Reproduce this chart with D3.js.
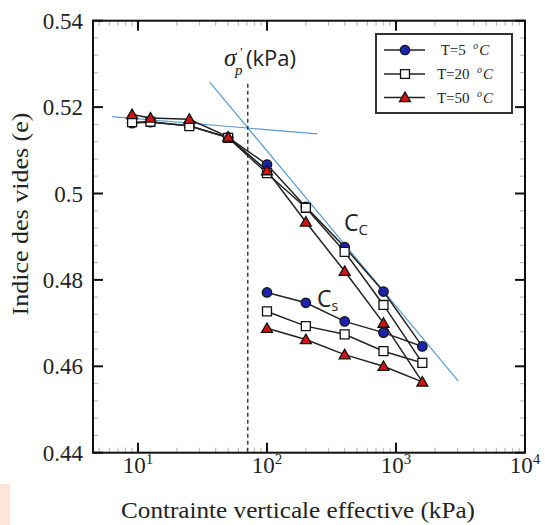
<!DOCTYPE html>
<html><head><meta charset="utf-8">
<script src="https://cdn.jsdelivr.net/npm/d3@7"></script>
<style>body{margin:0;background:#fff}svg{display:block}</style>
</head><body>
<svg id="c" width="545" height="525"></svg>
<script>
// ---- data ----
const loadP   = [9, 12.5, 25, 50, 100, 200, 400, 800, 1600];
const unloadP = [800, 400, 200, 100];
const t5Load    = [0.5163, 0.5165, 0.5157, 0.5130, 0.5067, 0.4969, 0.4876, 0.4773, 0.4646];
const t5Unload  = [0.4678, 0.4704, 0.4747, 0.4771];
const t20Load   = [0.5165, 0.5166, 0.5156, 0.5129, 0.5047, 0.4967, 0.4865, 0.4742, 0.4608];
const t20Unload = [0.4635, 0.4674, 0.4693, 0.4727];
const t50Load   = [0.5183, 0.5175, 0.5172, 0.5131, 0.5053, 0.4934, 0.4820, 0.4700, 0.4564];
const t50Unload = [0.4600, 0.4627, 0.4662, 0.4688];
const seriesNames = ["T=5", "T=20", "T=50"];
const yTicks = [0.44, 0.46, 0.48, 0.5, 0.52, 0.54];
const yTickLabels = ["0.44", "0.46", "0.48", "0.5", "0.52", "0.54"];
const xTicks = [10, 100, 1000, 10000];
const xTickExp = ["1", "2", "3", "4"];
const recompLine = [[6.3, 0.5178], [245, 0.5138]];
const compLine = [[36, 0.5258], [3030, 0.4566]];
const sigmaP = 71;
const dashTop = 0.5254;

const svg = d3.select("#c");
const L = 93, R = 525, T = 20.7, B = 452.7;
const x = d3.scaleLog().domain([4.48, 10000]).range([L, R]);
const y = d3.scaleLinear().domain([0.44, 0.54]).range([B, T]);
const serif = "Liberation Serif, DejaVu Serif, serif";
const sans = "Open Sans, Noto Sans, sans-serif";

// artifact rectangle
svg.append("rect").attr("x", 0).attr("y", 484).attr("width", 10).attr("height", 41).attr("fill", "#fde5d9");

// minor ticks
const yMinor = d3.range(0.444, 0.54, 0.004).filter(v => Math.abs(v/0.02 - Math.round(v/0.02)) > 0.05);
const xMinor = [];
[1, 10, 100, 1000].forEach(d => { for (let k = 2; k <= 9; k++) { const v = k*d; if (v >= 4.48 && v < 10000) xMinor.push(v); } });
const g = svg.append("g");
yMinor.forEach(v => {
  g.append("line").attr("x1", L).attr("x2", L+5).attr("y1", y(v)).attr("y2", y(v)).attr("stroke", "#bbb").attr("stroke-width", 1.2);
  g.append("line").attr("x1", R).attr("x2", R-5).attr("y1", y(v)).attr("y2", y(v)).attr("stroke", "#bbb").attr("stroke-width", 1.2);
});
xMinor.forEach(v => {
  g.append("line").attr("x1", x(v)).attr("x2", x(v)).attr("y1", B).attr("y2", B-5).attr("stroke", "#bbb").attr("stroke-width", 1.2);
  g.append("line").attr("x1", x(v)).attr("x2", x(v)).attr("y1", T).attr("y2", T+5).attr("stroke", "#bbb").attr("stroke-width", 1.2);
});
yTicks.forEach(v => {
  g.append("line").attr("x1", L).attr("x2", L+10).attr("y1", y(v)).attr("y2", y(v)).attr("stroke", "#111").attr("stroke-width", 2);
  g.append("line").attr("x1", R).attr("x2", R-10).attr("y1", y(v)).attr("y2", y(v)).attr("stroke", "#111").attr("stroke-width", 2);
});
xTicks.forEach(v => {
  g.append("line").attr("x1", x(v)).attr("x2", x(v)).attr("y1", B).attr("y2", B-10).attr("stroke", "#111").attr("stroke-width", 2);
  g.append("line").attr("x1", x(v)).attr("x2", x(v)).attr("y1", T).attr("y2", T+10).attr("stroke", "#111").attr("stroke-width", 2);
});

// frame
svg.append("rect").attr("x", L).attr("y", T).attr("width", R-L).attr("height", B-T)
  .attr("fill", "none").attr("stroke", "#111").attr("stroke-width", 2);

// tick labels
yTicks.forEach((v, i) => {
  svg.append("text").attr("x", 83).attr("y", y(v)).attr("dy", "0.35em").attr("text-anchor", "end")
    .attr("font-family", serif).attr("font-size", 23).attr("fill", "#222").text(yTickLabels[i]);
});
xTicks.forEach((v, i) => {
  const t = svg.append("text").attr("x", x(v)).attr("y", 473).attr("text-anchor", "middle")
    .attr("font-family", serif).attr("font-size", 23).attr("fill", "#222");
  t.append("tspan").text("10");
  t.append("tspan").attr("font-size", 15).attr("dy", -9).text(xTickExp[i]);
});

// axis titles
svg.append("text").attr("x", 298).attr("y", 518).attr("text-anchor", "middle")
  .attr("font-family", serif).attr("font-size", 24).attr("fill", "#222")
  .attr("textLength", 354).attr("lengthAdjust", "spacingAndGlyphs")
  .text("Contrainte verticale effective (kPa)");
svg.append("text").attr("transform", "translate(28,214) rotate(-90)").attr("text-anchor", "middle")
  .attr("font-family", serif).attr("font-size", 23).attr("fill", "#222")
  .attr("textLength", 203).attr("lengthAdjust", "spacingAndGlyphs")
  .text("Indice des vides (e)");

// construction lines
const lineGen = d3.line().x(d => x(d[0])).y(d => y(d[1]));
svg.append("path").attr("d", lineGen(recompLine)).attr("stroke", "#5a9bd0").attr("stroke-width", 1.2).attr("fill", "none");
svg.append("path").attr("d", lineGen(compLine)).attr("stroke", "#5a9bd0").attr("stroke-width", 1.2).attr("fill", "none");
svg.append("line").attr("x1", x(sigmaP)).attr("x2", x(sigmaP)).attr("y1", y(dashTop)).attr("y2", y(0.44))
  .attr("stroke", "#111").attr("stroke-width", 1.2).attr("stroke-dasharray", "4,3");

// series
const allP = loadP.concat(unloadP);
const series = [
  { name: seriesNames[0], vals: t5Load.concat(t5Unload), shape: "circle", fill: "#1a24b0" },
  { name: seriesNames[1], vals: t20Load.concat(t20Unload), shape: "square", fill: "#ffffff" },
  { name: seriesNames[2], vals: t50Load.concat(t50Unload), shape: "triangle", fill: "#d01414" }
];
const symFor = s => s === "circle" ? d3.symbol(d3.symbolCircle, 70) : s === "square" ? d3.symbol(d3.symbolSquare, 80) : d3.symbol(d3.symbolTriangle, 52);
series.forEach(s => {
  const pts = allP.map((p, i) => [p, s.vals[i]]);
  svg.append("path").attr("d", lineGen(pts)).attr("stroke", "#222").attr("stroke-width", 1.5).attr("fill", "none");
});
series.forEach(s => {
  const pts = allP.map((p, i) => [p, s.vals[i]]);
  svg.append("g").selectAll("path").data(pts).join("path")
    .attr("transform", d => `translate(${x(d[0])},${y(d[1]) + (s.shape === "triangle" ? 1 : 0)})`)
    .attr("d", symFor(s.shape)()).attr("fill", s.fill).attr("stroke", "#111").attr("stroke-width", 1.3);
});

// annotations
svg.append("text").attr("x", 224).attr("y", 66).attr("fill", "#222")
  .attr("font-family", serif).attr("font-style", "italic").attr("font-size", 25).text("σ");
svg.append("text").attr("x", 240).attr("y", 56).attr("fill", "#222")
  .attr("font-family", serif).attr("font-size", 13).text("′");
svg.append("text").attr("x", 235).attr("y", 75).attr("fill", "#222")
  .attr("font-family", serif).attr("font-style", "italic").attr("font-size", 15).text("p");
svg.append("text").attr("x", 246).attr("y", 66).attr("fill", "#222")
  .attr("font-family", sans).attr("font-size", 22).text("(kPa)");

const cc = svg.append("text").attr("x", 344).attr("y", 231).attr("font-family", sans).attr("fill", "#222");
cc.append("tspan").attr("font-size", 23).text("C");
cc.append("tspan").attr("font-size", 15).attr("dy", 4).text("C");
const cs = svg.append("text").attr("x", 317).attr("y", 307).attr("font-family", sans).attr("fill", "#222");
cs.append("tspan").attr("font-size", 23).text("C");
cs.append("tspan").attr("font-size", 14).attr("dy", 4).text("s");

// legend
const lg = svg.append("g");
lg.append("rect").attr("x", 376).attr("y", 34).attr("width", 136).attr("height", 79)
  .attr("fill", "#fff").attr("stroke", "#333").attr("stroke-width", 2);
const rowY = [50, 74, 97.5];
series.forEach((s, i) => {
  lg.append("line").attr("x1", 384).attr("x2", 425).attr("y1", rowY[i]).attr("y2", rowY[i]).attr("stroke", "#222").attr("stroke-width", 1.5);
  lg.append("path").attr("transform", `translate(405,${rowY[i] + (s.shape === "triangle" ? 1 : 0)})`)
    .attr("d", symFor(s.shape)()).attr("fill", s.fill).attr("stroke", "#111").attr("stroke-width", 1.3);
  const t = lg.append("text").attr("x", 465).attr("y", rowY[i] + 5).attr("text-anchor", "middle")
    .attr("font-family", serif).attr("font-size", 15).attr("fill", "#222");
  t.append("tspan").text(s.name + "\u2002");
  t.append("tspan").attr("font-style", "italic").attr("font-size", 10).attr("dy", -6).text("o");
  t.append("tspan").attr("font-style", "italic").attr("dy", 6).attr("dx", 1).text("C");
});
</script>
</body></html>
